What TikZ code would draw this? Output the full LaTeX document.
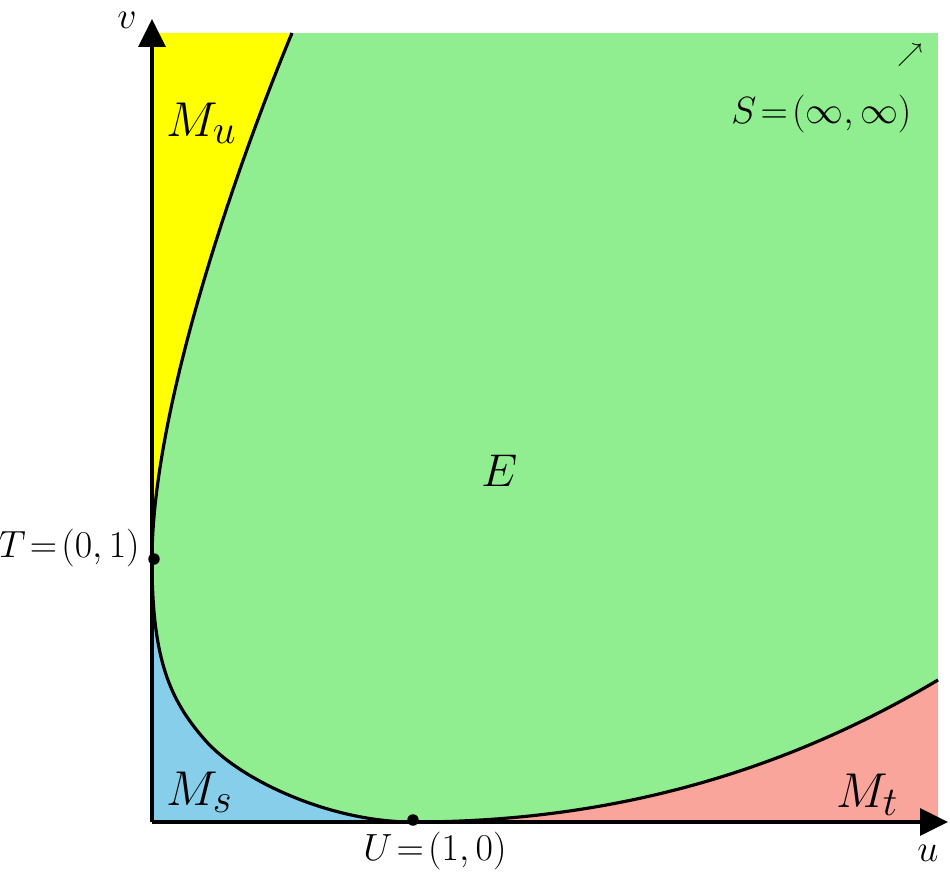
\documentclass[tikz,border=0pt]{standalone}
\usetikzlibrary{arrows.meta}
\definecolor{greenE}{RGB}{144,238,144}
\definecolor{yellowMu}{RGB}{255,255,0}
\definecolor{blueMs}{RGB}{135,206,235}
\definecolor{salmonMt}{RGB}{250,165,155}
\tikzset{
  bigtxt/.style={inner sep=0pt, font=\fontsize{24.88}{30}\selectfont, scale=1.12},
  midtxt/.style={inner sep=0pt, font=\fontsize{24.88}{30}\selectfont, scale=1.05},
  smalltxt/.style={inner sep=0pt, font=\fontsize{20.74}{25}\selectfont, scale=1.04},
  tinytxt/.style={inner sep=0pt, font=\fontsize{14.4}{18}\selectfont},
  curve/.style={line width=1.8pt, black},
  axis/.style={line width=1.8pt, black, -{Triangle[length=0.56cm,width=0.54cm]}},
  dot/.style={circle, fill=black, inner sep=0pt, minimum size=0.23cm}
}
\newcommand{\eqs}{\mkern2mu{=}\mkern2mu}
\begin{document}
\begin{tikzpicture}[x=0.02cm,y=-0.02cm]
\useasboundingbox (0,0) rectangle (950,872);
% key points
\coordinate (O) at (152,822);
\coordinate (TL) at (152,33);
\coordinate (TR) at (938,33);
\coordinate (BR) at (938,822);
\coordinate (Tp) at (152,560);
\coordinate (Mid) at (205,740);
\coordinate (Up) at (413,822);
\coordinate (Mtop) at (292,33);
\coordinate (Rend) at (938,680);
% regions
\fill[greenE] (O) rectangle (TR);
\fill[yellowMu] (TL) -- (Mtop) .. controls (235,170) and (152,410) .. (Tp) -- cycle;
\fill[blueMs] (Tp) .. controls (152,660) and (170,700) .. (Mid)
   .. controls (240,780) and (330,822) .. (Up) -- (O) -- cycle;
\fill[salmonMt] (Up) .. controls (650,822) and (820,750) .. (Rend) -- (BR) -- cycle;
% boundary curves
\draw[curve] (Mtop) .. controls (235,170) and (152,410) .. (Tp);
\draw[curve] (Tp) .. controls (152,660) and (170,700) .. (Mid)
   .. controls (240,780) and (330,822) .. (Up);
\draw[curve] (Up) .. controls (650,822) and (820,750) .. (Rend);
% axes
\coordinate (uEnd) at (948,822);
\coordinate (vEnd) at (152,19);
\draw[axis] (O) -- (uEnd);
\draw[axis] (O) -- (vEnd);
\node[smalltxt] (vlab) at (127,20) {$v$};
\node[smalltxt] (ulab) at (928,853) {$u$};
% points
\node[dot] (Tdot) at (154,559) {};
\node[dot] (Udot) at (413,820) {};
% labels
\node[bigtxt, anchor=base west] (Mu) at (166,136) {$M_u$};
\node[bigtxt, anchor=base west] (Ms) at (166,805) {$M_s$};
\node[bigtxt, anchor=base west] (Mt) at (836,807) {$M_t$};
\node[midtxt, anchor=base west] (E) at (481,486) {$E$};
\node[smalltxt, anchor=base east] (Tlab) at (140,557) {$T\eqs(0,1)$};
\node[smalltxt, anchor=base west] (Ulab) at (363,860) {$U\eqs(1,0)$};
\node[smalltxt, anchor=base west] (Slab) at (731,123) {$S\eqs(\infty,\infty)$};
\node[tinytxt] (arr) at (910,55) {$\nearrow$};
\end{tikzpicture}
\end{document}
